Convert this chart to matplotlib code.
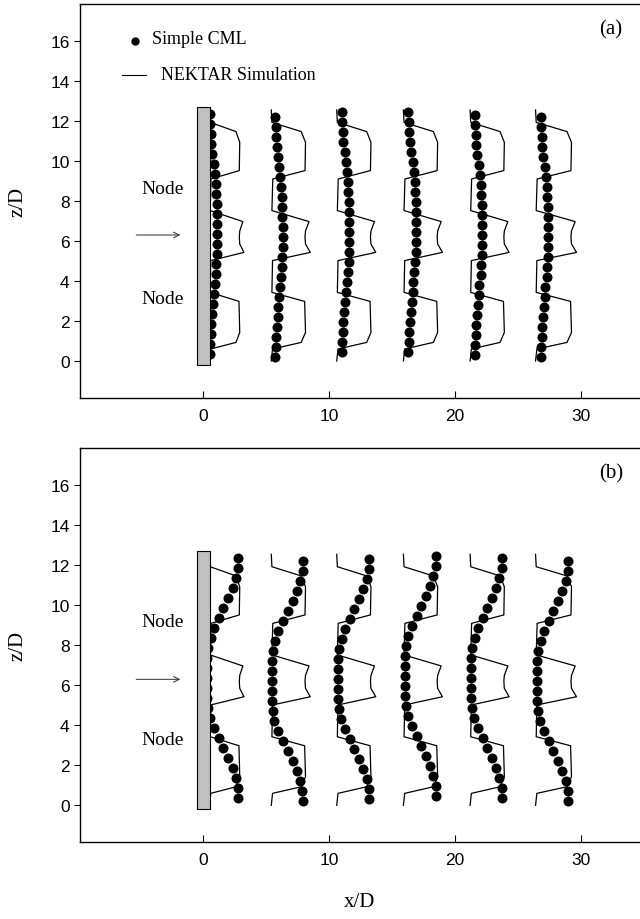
import numpy as np
import matplotlib
matplotlib.use("Agg")
import matplotlib.pyplot as plt
from matplotlib.patches import Rectangle

# station positions along the wake (x/D)
nek_x0 = [0.5, 5.4, 10.6, 15.9, 21.2, 26.4]
nek_scale = [0.88, 1.0, 1.0, 1.0, 1.0, 1.05]

# NEKTAR profile relative to each station: (offset, z/D), top to bottom
nek_dx = [0.0, 0.05, 2.38, 2.72, 2.68, 0.12, 0.05, 3.0, 2.72, 2.68, 2.72, 3.1,
          0.1, 0.05, 2.65, 2.72, 2.38, 0.1, 0.0]
nek_z = [12.55, 11.93, 11.47, 10.93, 9.52, 9.1, 7.52, 6.97, 6.5, 6.2, 5.85, 5.43,
         5.02, 3.43, 2.98, 1.43, 0.93, 0.6, 0.0]

# Simple CML masses, bottom to top
cml_z = [0.2, 0.7, 1.2, 1.7, 2.2, 2.7, 3.2, 3.7, 4.2, 4.7, 5.2, 5.7, 6.2,
         6.7, 7.2, 7.7, 8.2, 8.7, 9.2, 9.7, 10.2, 10.7, 11.2, 11.7, 12.2]

# (a): small bow
cml_dx_a = [0.40, 0.44, 0.48, 0.53, 0.60, 0.66, 0.73, 0.79, 0.88, 0.94, 0.99, 1.01, 1.01,
            1.01, 0.99, 0.97, 0.93, 0.90, 0.81, 0.74, 0.62, 0.53, 0.48, 0.45, 0.40]
cml_x0_a = [0.1, 5.3, 10.6, 15.9, 21.15, 26.4]
cml_zs_a = [0.17, 0.0, 0.23, 0.23, 0.11, 0.02]

# (b): mode-shape swing
cml_dx_b = [2.59, 2.57, 2.38, 2.12, 1.80, 1.40, 1.06, 0.66, 0.34, 0.21, 0.13, 0.13, 0.13,
            0.13, 0.13, 0.21, 0.40, 0.66, 1.06, 1.40, 1.80, 2.12, 2.38, 2.59, 2.59]
cml_x0_b = [0.2, 5.3, 10.6, 15.9, 21.15, 26.4]
cml_zs_b = [0.15, 0.0, 0.13, 0.28, 0.15, 0.0]

xticks = [0, 10, 20, 30]
yticks = [0, 2, 4, 6, 8, 10, 12, 14, 16]

serif = "Liberation Serif"
sans = "Liberation Sans"


def draw_panel(ax, dx, x0s, zs, tag, node_z):
    for i, x0 in enumerate(nek_x0):
        ax.plot(x0 + nek_scale[i] * np.array(nek_dx), nek_z, color="black", lw=0.9, zorder=2)
    for i, x0 in enumerate(x0s):
        ax.plot(x0 + np.array(dx), np.array(cml_z) + zs[i], "o", color="black",
                ms=7.2, mec="none", zorder=3)

    # cylinder
    ax.add_patch(Rectangle((-0.5, -0.2), 1.0, 12.9, facecolor="#c0c0c0",
                           edgecolor="black", lw=0.8, zorder=4))

    # incoming flow
    ax.annotate("", xy=(-1.6, 6.3), xytext=(-5.55, 6.3),
                arrowprops=dict(arrowstyle="->", color="#444444", lw=0.8))
    for nz in node_z:
        ax.text(-4.9, nz, "Node", family=serif, fontsize=14, va="center", ha="left")

    ax.text(32.4, 16.6, tag, family=serif, fontsize=15, ha="center", va="center")

    ax.set_xlim(-9.8, 34.7)
    ax.set_ylim(-1.85, 17.85)
    ax.set_xticks(xticks)
    ax.set_yticks(yticks)
    ax.tick_params(axis="x", direction="in", length=5, width=0.8, labelsize=12.5, pad=7)
    ax.tick_params(axis="y", direction="out", length=4, width=0.8, labelsize=12.5)
    for lab in ax.get_xticklabels() + ax.get_yticklabels():
        lab.set_family(sans)
    ax.spines["right"].set_visible(False)
    for s in ["left", "top", "bottom"]:
        ax.spines[s].set_linewidth(1.0)
    ax.set_ylabel("z/D", family=serif, fontsize=15, labelpad=16)


fig = plt.figure(figsize=(6.4, 9.2), dpi=100)
ax1 = fig.add_axes([0.125, 0.5663, 0.875, 0.4283])
ax2 = fig.add_axes([0.125, 0.0833, 0.875, 0.4283])

draw_panel(ax1, cml_dx_a, cml_x0_a, cml_zs_a, "(a)", [8.6, 3.1])
draw_panel(ax2, cml_dx_b, cml_x0_b, cml_zs_b, "(b)", [9.2, 3.3])

# legend
ax1.plot([-5.45], [16.0], "o", color="black", ms=6, mec="none")
ax1.text(-4.1, 16.1, "Simple CML", family=serif, fontsize=13, va="center")
ax1.plot([-6.45, -4.55], [14.3, 14.3], color="black", lw=0.8)
ax1.text(-3.4, 14.3, "NEKTAR Simulation", family=serif, fontsize=13, va="center")

ax2.set_xlabel("x/D", family=serif, fontsize=15, labelpad=18)

fig.savefig("out.png", dpi=100)
